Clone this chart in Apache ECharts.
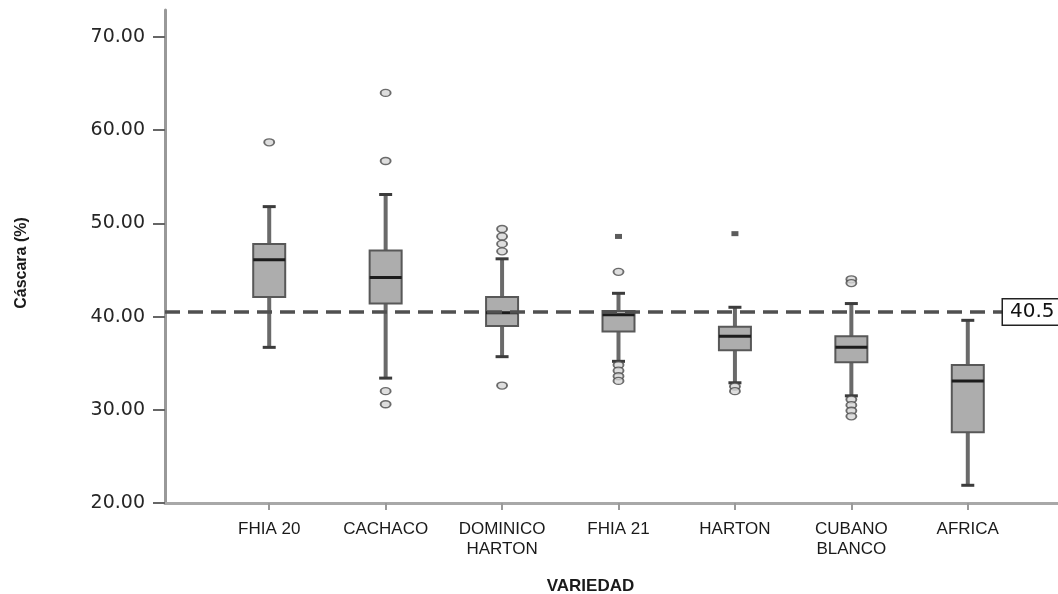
<!DOCTYPE html>
<html><head><meta charset="utf-8">
<script src="https://cdn.jsdelivr.net/npm/echarts@6/dist/echarts.min.js"></script>
<style>html,body{margin:0;padding:0;background:#fff}#c{width:1058px;height:594px}</style>
</head><body><div id="c"></div>
<script>
// ---- data ----
const categories = ['FHIA 20', 'CACHACO', 'DOMINICO\nHARTON', 'FHIA 21', 'HARTON', 'CUBANO\nBLANCO', 'AFRICA'];
const whiskerLow  = [36.7, 33.4, 35.7, 35.2, 32.9, 31.5, 21.9];
const quartile1   = [42.1, 41.4, 39.0, 38.4, 36.4, 35.1, 27.6];
const medians     = [46.1, 44.2, 40.4, 40.2, 37.9, 36.7, 33.1];
const quartile3   = [47.8, 47.1, 42.1, 40.6, 38.9, 37.9, 34.8];
const whiskerHigh = [51.8, 53.1, 46.2, 42.5, 41.0, 41.4, 39.6];
// outliers: [category index, value]
const outliers = [
  [0, 58.7],
  [1, 64.0], [1, 56.7], [1, 32.0], [1, 30.6],
  [2, 49.4], [2, 48.6], [2, 47.8], [2, 47.0], [2, 32.6],
  [3, 44.8], [3, 34.8], [3, 34.2], [3, 33.6], [3, 33.1],
  [4, 32.5], [4, 32.0],
  [5, 44.0], [5, 43.6], [5, 31.1], [5, 30.5], [5, 29.9], [5, 29.3]
];
const extremes = [[3, 48.6], [4, 48.9]];
const referenceValue = 40.5;
const yMin = 20, yMax = 70, yInterval = 10;

// ---- chart ----
const boxData = categories.map((c, i) => [i, whiskerLow[i], quartile1[i], medians[i], quartile3[i], whiskerHigh[i]]);

const chart = echarts.init(document.getElementById('c'), null, {renderer: 'canvas'});
const option = {
  backgroundColor: '#ffffff',
  animation: false,
  grid: [
    {left: 165, right: 0, top: 10, bottom: 91, outerBoundsMode: 'none', containLabel: false},
    {left: 211, right: 32, top: 37, bottom: 91, outerBoundsMode: 'none', containLabel: false},
    {left: 165, right: 55, top: 37, bottom: 91, outerBoundsMode: 'none', containLabel: false}
  ],
  xAxis: [
    {gridIndex: 0, type: 'value', min: 0, max: 1,
     axisLine: {show: true, onZero: false, lineStyle: {color: '#a8a8a8', width: 3}},
     axisTick: {show: false}, axisLabel: {show: false}, splitLine: {show: false}},
    {gridIndex: 1, type: 'category', data: categories, boundaryGap: true,
     axisLine: {show: false},
     axisTick: {show: true, alignWithLabel: true, length: 7, lineStyle: {color: '#9a9a9a', width: 2}},
     axisLabel: {margin: 16, color: '#1a1a1a', fontSize: 17, fontFamily: 'Liberation Sans, Arial, sans-serif', lineHeight: 20},
     name: 'VARIEDAD', nameLocation: 'middle', nameGap: 75,
     nameTextStyle: {color: '#1a1a1a', fontSize: 17, fontWeight: 'bold', fontFamily: 'Liberation Sans, Arial, sans-serif', padding: [0, 56, 0, 0]},
     splitLine: {show: false}},
    {gridIndex: 2, type: 'value', min: 0, max: 1, show: false}
  ],
  yAxis: [
    {gridIndex: 0, type: 'value', min: 0, max: 1,
     axisLine: {show: true, lineStyle: {color: '#999999', width: 3}},
     axisTick: {show: false}, axisLabel: {show: false}, splitLine: {show: false}},
    {gridIndex: 1, type: 'value', min: yMin, max: yMax, interval: yInterval, offset: 46,
     axisLine: {show: false},
     axisTick: {show: true, length: 12, lineStyle: {color: '#666', width: 2}},
     axisLabel: {margin: 20, color: '#262626', fontSize: 19, fontFamily: 'DejaVu Sans, sans-serif',
       formatter: v => v.toFixed(2)},
     splitLine: {show: false},
     name: 'Cáscara (%)', nameLocation: 'middle', nameGap: 135, nameRotate: 90,
     nameTextStyle: {color: '#1a1a1a', fontSize: 16, fontWeight: 'bold', fontFamily: 'Liberation Sans Narrow, Liberation Sans, Arial, sans-serif', padding: [0, 0, 0, 14]}},
    {gridIndex: 2, type: 'value', min: yMin, max: yMax, show: false}
  ],
  series: [
    {
      type: 'line', xAxisIndex: 2, yAxisIndex: 2, data: [], z: 1,
      markLine: {
        silent: true, symbol: 'none',
        lineStyle: {color: '#505050', width: 3.5, type: [15, 8]},
        label: {show: true, position: 'end', distance: 0, formatter: '{c}',
          color: '#111', fontSize: 20, fontFamily: 'DejaVu Sans, sans-serif',
          backgroundColor: '#fff', borderColor: '#222', borderWidth: 1.5, padding: [3, 10, 2, 7]},
        data: [{yAxis: referenceValue}]
      }
    },
    {
      type: 'custom', xAxisIndex: 1, yAxisIndex: 1, z: 3,
      data: boxData,
      encode: {x: 0, y: [1, 2, 3, 4, 5]},
      renderItem: function (params, api) {
        const i = api.value(0);
        const pLow = api.coord([i, api.value(1)]);
        const pQ1 = api.coord([i, api.value(2)]);
        const pMed = api.coord([i, api.value(3)]);
        const pQ3 = api.coord([i, api.value(4)]);
        const pHigh = api.coord([i, api.value(5)]);
        const x = pLow[0];
        const bw = 32, cw = 13;
        return {type: 'group', children: [
          {type: 'line', shape: {x1: x, y1: pHigh[1], x2: x, y2: pLow[1]}, style: {stroke: '#6a6a6a', lineWidth: 4}},
          {type: 'line', shape: {x1: x - cw / 2, y1: pHigh[1], x2: x + cw / 2, y2: pHigh[1]}, style: {stroke: '#3c3c3c', lineWidth: 3}},
          {type: 'line', shape: {x1: x - cw / 2, y1: pLow[1], x2: x + cw / 2, y2: pLow[1]}, style: {stroke: '#3c3c3c', lineWidth: 3}},
          {type: 'rect', shape: {x: x - bw / 2, y: pQ3[1], width: bw, height: pQ1[1] - pQ3[1]}, style: {fill: '#adadad', stroke: '#585858', lineWidth: 2}},
          {type: 'line', shape: {x1: x - bw / 2, y1: pMed[1], x2: x + bw / 2, y2: pMed[1]}, style: {stroke: '#1c1c1c', lineWidth: 3}}
        ]};
      }
    },
    {
      type: 'scatter', xAxisIndex: 1, yAxisIndex: 1, z: 4,
      data: outliers, symbol: 'circle', symbolSize: [10, 7],
      itemStyle: {color: '#d6d6d6', borderColor: '#4a4a4a', borderWidth: 1.6}
    },
    {
      type: 'scatter', xAxisIndex: 1, yAxisIndex: 1, z: 4,
      data: extremes, symbol: 'rect', symbolSize: [7, 5],
      itemStyle: {color: '#333'}
    }
  ]
};
chart.setOption(option);
</script>
</body></html>
